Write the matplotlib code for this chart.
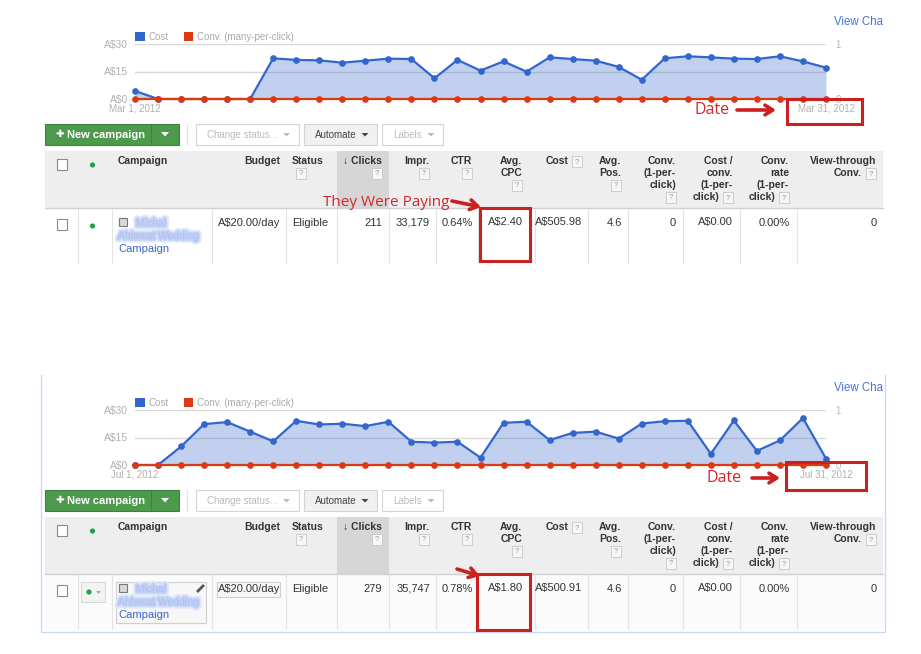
import matplotlib
matplotlib.use('Agg')
import matplotlib.pyplot as plt
from matplotlib.patches import Rectangle, Circle, Polygon
import matplotlib.patheffects as pe

W, H = 921, 654

# chart data, one point per day
days = list(range(31))
mar_cost = [4.4, 0, 0, 0, 0, 0, 22.2, 21.3, 21.1, 19.8, 20.9, 22.0, 21.8, 11.3, 21.3, 15.5,
            20.5, 14.9, 22.7, 21.8, 20.9, 17.5, 10.5, 22.2, 23.3, 22.7, 22.0, 21.8, 23.3, 20.5, 17.1]
mar_conv = [0, 0, 0, 0, 0, 0, 0, 0, 0, 0, 0, 0, 0, 0, 0, 0,
            0, 0, 0, 0, 0, 0, 0, 0, 0, 0, 0, 0, 0, 0, 0]
jul_cost = [0, 0, 10.1, 22.3, 23.4, 18.2, 12.9, 24.1, 22.1, 22.5, 21.2, 23.6, 12.7, 12.2, 12.7, 4.0,
            23.0, 23.6, 13.6, 17.5, 18.2, 14.4, 22.6, 23.9, 24.1, 6.1, 24.3, 7.7, 13.4, 25.6, 3.5]
jul_conv = [0, 0, 0, 0, 0, 0, 0, 0, 0, 0, 0, 0, 0, 0, 0, 0,
            0, 0, 0, 0, 0, 0, 0, 0, 0, 0, 0, 0, 0, 0, 0]
mar_dates = ['Mar 1, 2012', 'Mar 31, 2012']
jul_dates = ['Jul 1, 2012', 'Jul 31, 2012']
cost_ticks = [0, 15, 30]
cost_labels = ['A$0', 'A$15', 'A$30']
series_names = ['Cost', 'Conv. (many-per-click)']

# table data
headers = ['Campaign', 'Budget', 'Status', '\u2193 Clicks', 'Impr.', 'CTR', 'Avg.\nCPC', 'Cost',
           'Avg.\nPos.', 'Conv.\n(1-per-\nclick)', 'Cost /\nconv.\n(1-per-\nclick)',
           'Conv.\nrate\n(1-per-\nclick)', 'View-through\nConv.']
mar_row = ['A$20.00/day', 'Eligible', '211', '33,179', '0.64%', 'A$2.40', 'A$505.98', '4.6',
           '0', 'A$0.00', '0.00%', '0']
jul_row = ['A$20.00/day', 'Eligible', '279', '35,747', '0.78%', 'A$1.80', 'A$500.91', '4.6',
           '0', 'A$0.00', '0.00%', '0']

# layout (pixels)
col_edges = [45, 78, 112, 212, 286, 337, 389, 436, 478, 535, 588, 628, 683, 740, 797, 883]
hdr_x = [118, 280, 292, 382, 429, 472, 522, 582, 621, 676, 733, 789, 876]
hdr_ha = ['left', 'right', 'left'] + ['right'] * 10
hdr_q = [None, None, 'below', 'below', 'below', 'below', 'below', 'inline', 'below', 'below',
         'inline', 'inline', 'inline']
row_x = [280, 292, 382, 430, 473, 523, 582, 622, 676, 733, 790, 877]
row_ha = ['right', 'left'] + ['right'] * 10

BLUE = '#3366cc'
ORANGE = '#dc3912'
RED = '#cc1f1f'
UIF = 'Liberation Sans'

fig = plt.figure(figsize=(W / 100, H / 100), dpi=100)
fig.patch.set_facecolor('white')


def px(x0, y0, x1, y1):
    return [x0 / W, 1 - y1 / H, (x1 - x0) / W, (y1 - y0) / H]


ui = fig.add_axes([0, 0, 1, 1])
ui.set_xlim(0, W)
ui.set_ylim(H, 0)
ui.axis('off')


def qbox(xr, yc):
    ui.add_patch(Rectangle((xr - 10, yc - 5.5), 10, 11, fc='#f6f6f6', ec='#c8c8c8', lw=0.6))
    ui.text(xr - 5, yc + 0.5, '?', fontsize=5.5, color='#999999', ha='center', va='center',
            family=UIF)


def button(x0, x1, y0, y1, label, fc, tc):
    ui.add_patch(Rectangle((x0, y0), x1 - x0, y1 - y0, fc=fc, ec='#d4d4d4', lw=0.8))
    ui.text(x0 + (x1 - x0) / 2 - 5, (y0 + y1) / 2, label, fontsize=7, color=tc,
            ha='center', va='center', family=UIF)
    xt = x1 - 12
    yt = (y0 + y1) / 2
    ui.add_patch(Polygon([(xt - 3.5, yt - 1.5), (xt + 3.5, yt - 1.5), (xt, yt + 2)],
                         closed=True, fc=tc, ec='none'))


def panel(oy, row, extra_boxes):
    # toolbar
    ui.add_patch(Rectangle((45, oy + 123.5), 134, 21.5, fc='#4d9a4d', ec='#3c833c', lw=0.8))
    ui.plot([151, 151], [oy + 124, oy + 145], color='#3c833c', lw=0.8)
    ui.text(60, oy + 134, '\u271a', fontsize=7.5, color='white', va='center', ha='center',
            family='DejaVu Sans', fontweight='bold')
    ui.text(67, oy + 134.5, 'New campaign', fontsize=8, color='white', va='center',
            family=UIF, fontweight='bold')
    ui.add_patch(Polygon([(161, oy + 132), (169, oy + 132), (165, oy + 136.5)], closed=True,
                         fc='white', ec='none'))
    ui.plot([187, 187], [oy + 124, oy + 145], color='#e2e2e2', lw=0.8)
    button(195.5, 298.5, oy + 124, oy + 145, 'Change status...', 'white', '#bbbbbb')
    button(304, 377, oy + 124, oy + 145, 'Automate', '#f1f1f1', '#444444')
    button(382, 443, oy + 124, oy + 145, 'Labels', 'white', '#bbbbbb')

    # header band
    ui.add_patch(Rectangle((45, oy + 151), 838, 57, fc='#eeeeee', ec='none'))
    ui.add_patch(Rectangle((337, oy + 151), 52, 57, fc='#d6d6d6', ec='none'))
    ui.plot([45, 883], [oy + 208, oy + 208], color='#d0d0d0', lw=1)
    ui.add_patch(Rectangle((57, oy + 159), 10, 10.5, fc='white', ec='#8a8a8a', lw=0.8))
    ui.add_patch(Circle((92.5, oy + 165), 2.6, fc='#1ea34c', ec='none'))
    for txt, x, ha, q in zip(headers, hdr_x, hdr_ha, hdr_q):
        lines = txt.split('\n')
        for i, ln in enumerate(lines):
            xx = x
            if q == 'inline' and i == len(lines) - 1:
                xx = x - 14
            ui.text(xx, oy + 161.5 + 12 * i, ln, fontsize=7.5, fontweight='bold', color='#333333',
                    ha=ha, va='center', family=UIF)
        yl = oy + 161.5 + 12 * (len(lines) - 1)
        if q == 'inline':
            qbox(x, yl)
        elif q == 'below':
            qbox(x + 14 if ha == 'left' else x, yl + 11.5)

    # data row
    ui.add_patch(Rectangle((45, oy + 208.5), 838, 54, fc='#fbfbfb' if extra_boxes else 'white',
                           ec='none'))
    for e in col_edges[1:-1]:
        ui.plot([e, e], [oy + 209, oy + 263], color='#e4e4e4', lw=0.8)
    ui.add_patch(Rectangle((57, oy + 219), 10, 10.5, fc='white', ec='#8a8a8a', lw=0.8))
    if extra_boxes:
        ui.add_patch(Rectangle((81, oy + 216), 24, 20, fc='#f3f3f3', ec='#d8d8d8', lw=0.8))
        ui.add_patch(Circle((89, oy + 226), 2.6, fc='#1ea34c', ec='none'))
        ui.add_patch(Polygon([(96, oy + 225), (101, oy + 225), (98.5, oy + 228)], closed=True,
                             fc='#aaaaaa', ec='none'))
        ui.add_patch(Rectangle((116, oy + 216), 90, 41, fc='#f7f7f7', ec='#d0d0d0', lw=0.8))
        ui.add_patch(Rectangle((217, oy + 216), 63, 15, fc='#f7f7f7', ec='#cfcfcf', lw=0.8))
        ui.plot([197, 204], [oy + 226, oy + 219], color='#555555', lw=2, solid_capstyle='butt')
    else:
        ui.add_patch(Circle((92.5, oy + 226), 2.6, fc='#1ea34c', ec='none'))
    ui.add_patch(Rectangle((119, oy + 218), 8, 8, fc='#d8d8d8', ec='#777777', lw=0.8))
    # campaign name is blurred in the screenshot
    blur = [pe.Stroke(linewidth=5, foreground='#dfe7fa'),
            pe.Stroke(linewidth=2.5, foreground='#c3d1f5'), pe.Normal()]
    ui.text(136, oy + 223, 'Michal', fontsize=7.5, color='#aec0f0', va='center', family=UIF,
            path_effects=blur)
    ui.text(118, oy + 236, 'Ahlawat Wedding', fontsize=7.5, color='#aec0f0', va='center',
            family=UIF, path_effects=blur)
    ui.text(118, oy + 249, 'Campaign', fontsize=8, color='#3a66cc', va='center', family=UIF)
    for txt, x, ha in zip(row, row_x, row_ha):
        ui.text(x, oy + 222.5, txt, fontsize=8, color='#333333', ha=ha, va='center', family=UIF)

    # legend and link
    ui.add_patch(Rectangle((135, oy + 31.5), 9.5, 9.5, fc=BLUE, ec='none'))
    ui.text(148, oy + 36.5, series_names[0], fontsize=7, color='#aaaaaa', va='center', family=UIF)
    ui.add_patch(Rectangle((183.5, oy + 31.5), 9.5, 9.5, fc=ORANGE, ec='none'))
    ui.text(197, oy + 36.5, series_names[1], fontsize=7, color='#aaaaaa', va='center', family=UIF)
    ui.text(834, oy + 22, 'View Cha', fontsize=8.3, color='#4a72d4', va='center', family=UIF)


def chart(oy, cost, conv, dates):
    ax = fig.add_axes(px(135, oy + 44, 826, oy + 99))
    ax.set_xlim(0, 30)
    ax.set_ylim(0, 30)
    ax.patch.set_visible(False)
    ax.fill_between(days, cost, 0, color=BLUE, alpha=0.3, lw=0)
    ax.plot(days, cost, color=BLUE, lw=1.6, marker='o', ms=3.8, clip_on=False, zorder=3)
    ax.set_yticks(cost_ticks)
    ax.set_yticklabels(cost_labels)
    ax.set_xticks([days[0], days[-1]])
    ax.set_xticklabels(dates)
    ax.yaxis.grid(True, color='#d9d9d9', lw=1)
    ax.set_axisbelow(True)
    ax.tick_params(axis='y', length=0, pad=5, labelsize=7.5, labelcolor='#b0b0b0')
    ax.tick_params(axis='x', length=0, pad=3, labelsize=7, labelcolor='#b0b0b0')
    for t in ax.get_yticklabels() + ax.get_xticklabels():
        t.set_family(UIF)
    ax2 = ax.twinx()
    ax2.set_ylim(0, 1)
    ax2.plot(days, conv, color=ORANGE, lw=1.6, marker='o', ms=3.8, clip_on=False, zorder=4)
    ax2.set_yticks([0, 1])
    ax2.set_yticklabels(['0', '1'])
    ax2.tick_params(axis='y', length=0, pad=7, labelsize=7, labelcolor='#b8b8b8')
    for t in ax2.get_yticklabels():
        t.set_family(UIF)
    for a in (ax, ax2):
        for s in a.spines.values():
            s.set_visible(False)


panel(0, mar_row, False)
panel(366, jul_row, True)
# light blue frame round the second screenshot
ui.plot([41, 41, 884.5, 884.5], [375, 632, 632, 375], color='#c7daf5', lw=1)

chart(0, mar_cost, mar_conv, mar_dates)
chart(366, jul_cost, jul_conv, jul_dates)

# red hand annotations on top
ov = fig.add_axes([0, 0, 1, 1], zorder=10)
ov.set_xlim(0, W)
ov.set_ylim(H, 0)
ov.axis('off')
ov.patch.set_visible(False)
ANF = ['Open Sans', 'DejaVu Sans']
box_kw = dict(fill=False, ec=RED, lw=2.2)
arr = dict(arrowstyle='->,head_length=0.55,head_width=0.35', lw=2.6, color=RED,
           shrinkA=0, shrinkB=0)
ov.text(323, 202, 'They Were Paying', fontsize=11, color='#d4262b', va='center',
        family=ANF)
ov.annotate('', xy=(481, 207), xytext=(452, 201), arrowprops=arr)
ov.add_patch(Rectangle((480, 208), 50, 53, **box_kw))
ov.text(694, 110, 'Date', fontsize=11.5, color='#d4262b', va='center', family=ANF)
ov.annotate('', xy=(776, 110), xytext=(737, 110), arrowprops=arr)
ov.add_patch(Rectangle((787, 99), 75, 25, **box_kw))

ov.text(706, 478, 'Date', fontsize=11.5, color='#d4262b', va='center', family=ANF)
ov.annotate('', xy=(780, 478), xytext=(752, 478), arrowprops=arr)
ov.add_patch(Rectangle((786, 462), 80, 28, **box_kw))
ov.annotate('', xy=(480, 576), xytext=(457, 569), arrowprops=arr)
ov.add_patch(Rectangle((477, 574), 53, 56, **box_kw))

fig.savefig('out.png', dpi=100)
